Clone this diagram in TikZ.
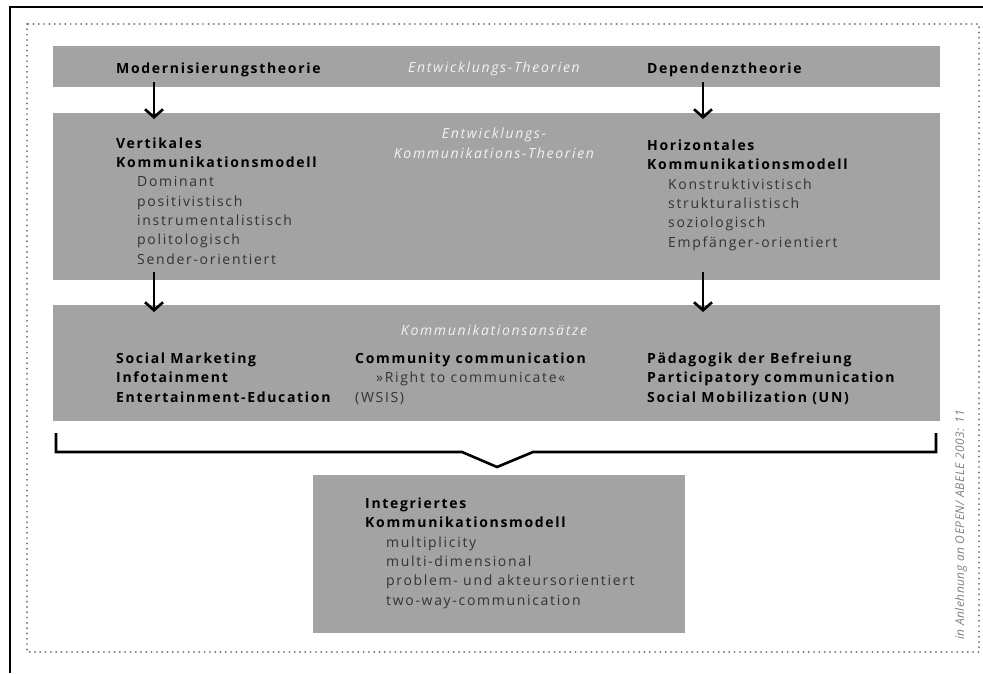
\documentclass[tikz,border=0pt]{standalone}
\usepackage{fontspec}
\setmainfont{Open Sans}[LetterSpace=12]
\newfontfamily\quellfont{Open Sans}[LetterSpace=4]
\usetikzlibrary{arrows.meta,positioning}
\definecolor{boxgray}{gray}{0.64}
\definecolor{listgray}{gray}{0.2}
\definecolor{headwhite}{gray}{0.95}
\definecolor{dotgray}{gray}{0.5}
\newcommand{\grund}{\fontsize{14pt}{19.3pt}\selectfont}
\newcommand{\eintrag}[1]{\hspace*{21pt}\textcolor{listgray}{#1}}
\tikzset{%
   box/.style={fill=boxgray, draw=none, anchor=north west, inner sep=0pt, minimum width=887pt},
   head/.style={font=\grund\itshape, text=headwhite, anchor=base, inner sep=0pt, align=center},
   col/.style={font=\grund, align=left, anchor=base west, inner sep=0pt},
   fett/.style={col, font=\grund\bfseries},
   pfeil/.style={-{Straight Barb[length=8pt,width=18pt]}, line width=2.6pt},
}

\begin{document}
\begin{tikzpicture}[x=1pt, y=-1pt]
   \useasboundingbox (0,0) rectangle (983,673);
   % frames
   \draw[line width=2pt] (10,673) |- (983,7);
   \draw[dotgray, line width=2.2pt, dash pattern=on 0pt off 5.3pt, line cap=round] (27,24) rectangle (979,652);
   % boxes
   \node[box, minimum height=41pt] (theo) at (53,46) {};
   \node[box, minimum height=167pt] (kommtheo) at (53,113) {};
   \node[box, minimum height=116pt] (ansatz) at (53,305) {};
   \node[box, minimum width=372pt, minimum height=158pt] (integ) at (313,475) {};
   % row 1 (multi-line nodes sit on their last baseline)
   \node[fett] (modern) at (116,73) {Modernisierungstheorie};
   \node[head] (entw) at (494,72) {Entwicklungs-Theorien};
   \node[fett] (depend) at (647,73) {Dependenztheorie};
   % row 2
   \node[col] (vert) at (116,264) {\textbf{Vertikales}\\\textbf{Kommunikationsmodell}\\
      \eintrag{Dominant}\\\eintrag{positivistisch}\\\eintrag{instrumentalistisch}\\
      \eintrag{politologisch}\\\eintrag{Sender-orientiert}};
   \node[head] (entwkomm) at (494,158) {Entwicklungs-\\Kommunikations-Theorien};
   \node[col] (horiz) at (647,247) {\textbf{Horizontales}\\\textbf{Kommunikationsmodell}\\
      \eintrag{Konstruktivistisch}\\\eintrag{strukturalistisch}\\\eintrag{soziologisch}\\
      \eintrag{Empfänger-orientiert}};
   % row 3
   \node[head] (kans) at (494,335) {Kommunikationsansätze};
   \node[fett] (social) at (116,402) {Social Marketing\\Infotainment\\Entertainment-Education};
   \node[col] (commun) at (355,402) {\textbf{Community communication}\\
      \eintrag{»Right to communicate«}\\\textcolor{listgray}{(WSIS)}};
   \node[fett] (paed) at (647,402) {Pädagogik der Befreiung\\Participatory communication\\Social Mobilization (UN)};
   % row 4
   \node[col] (integr) at (365,605) {\textbf{Integriertes}\\\textbf{Kommunikationsmodell}\\
      \eintrag{multiplicity}\\\eintrag{multi-dimensional}\\
      \eintrag{problem- und akteursorientiert}\\\eintrag{two-way-communication}};
   % arrows
   \coordinate (l1) at (154,82);  \coordinate (l2) at (154,119);
   \coordinate (r1) at (703,82);  \coordinate (r2) at (703,119);
   \coordinate (l3) at (154,272); \coordinate (l4) at (154,312);
   \coordinate (r3) at (703,272); \coordinate (r4) at (703,312);
   \draw[pfeil] (l1) -- (l2);
   \draw[pfeil] (r1) -- (r2);
   \draw[pfeil] (l3) -- (l4);
   \draw[pfeil] (r3) -- (r4);
   % brace
   \draw[line width=2.6pt] (56,433) |- (462,452) -- (497,467) -- (533,452) -| (936,433);
   \node[rotate=90, anchor=base west, inner sep=0pt, font=\quellfont\itshape\fontsize{12pt}{14pt}\selectfont, text=dotgray] (quelle) at (964,640) {in Anlehnung an OEPEN/ ABELE 2003: 11};
\end{tikzpicture}
\end{document}
